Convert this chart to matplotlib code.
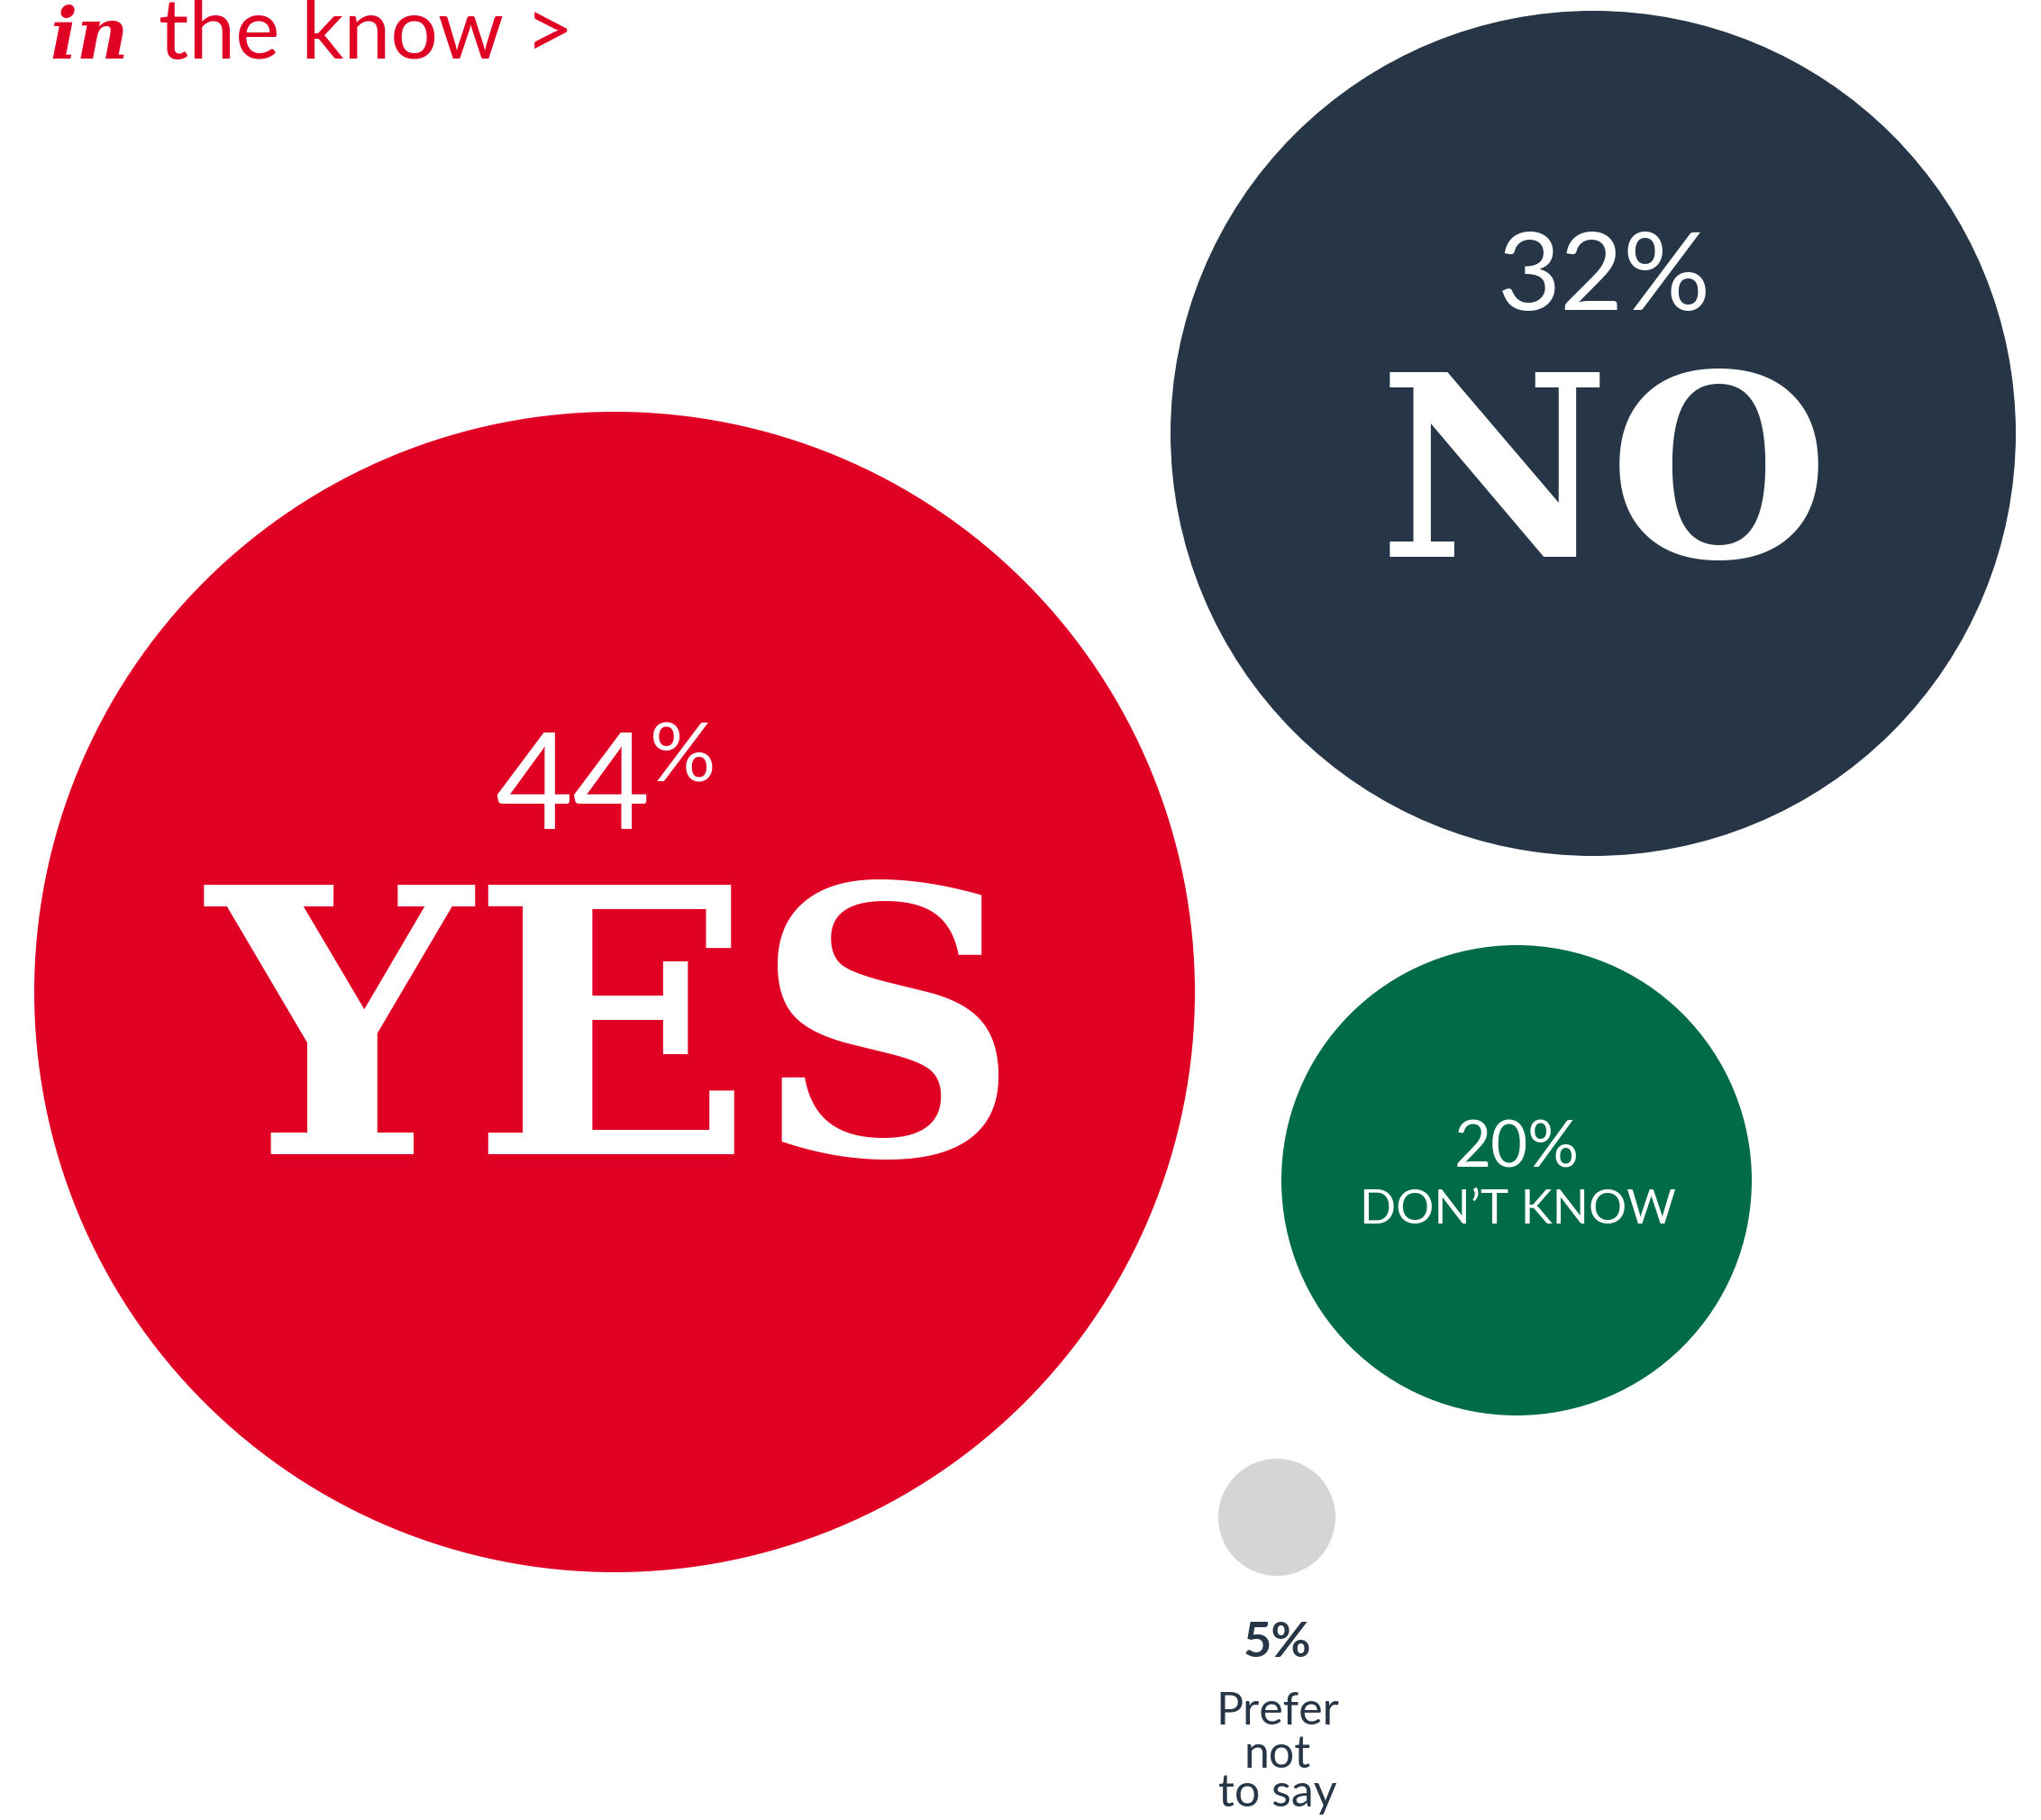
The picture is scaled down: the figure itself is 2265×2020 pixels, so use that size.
import matplotlib
matplotlib.use("Agg")
import matplotlib.pyplot as plt
from matplotlib.patches import Circle

# Survey answers
categories = ["YES", "NO", "DON'T KNOW", "Prefer\nnot\nto say"]
values = [44, 32, 20, 5]
pct_labels = [f"{v}%" for v in values]

# Palette
RED = "#E00024"
NAVY = "#263646"
GREEN = "#006B47"
GREY = "#D4D5D7"
colors = [RED, NAVY, GREEN, GREY]

# Bubble layout (pixel space of the canvas)
centers = [(682, 1101), (1768, 481), (1683, 1310), (1417, 1684)]
radii = [644, 469, 261, 65]

W, H = 2265, 2020
fig = plt.figure(figsize=(W / 100, H / 100), dpi=100)
ax = fig.add_axes([0, 0, 1, 1])
ax.set_xlim(0, W)
ax.set_ylim(H, 0)
ax.set_aspect("equal")
ax.axis("off")

for (cx, cy), r, c in zip(centers, radii, colors):
    ax.add_patch(Circle((cx, cy), r, facecolor=c, edgecolor="none"))

SANS = ["Lato", "DejaVu Sans"]
SERIF = ["DejaVu Serif"]

# Header
ax.text(55, 65, "in", family=SERIF, fontweight="bold", fontstyle="italic",
        fontsize=57, color=RED, ha="left", va="baseline")
ax.text(176, 65, "the know >", family=SANS, fontweight="normal",
        fontsize=67, color=RED, ha="left", va="baseline")

# YES bubble
ax.text(636, 920, pct_labels[0][:-1], family=SANS, fontweight="normal",
        fontsize=107, color="white", ha="center", va="baseline")
ax.text(758, 868, "%", family=SANS, fontweight="normal",
        fontsize=66, color="white", ha="center", va="baseline")
ax.text(682, 1281, categories[0], family=SERIF, fontweight="bold",
        fontsize=296, color="white", ha="center", va="baseline")

# NO bubble
ax.text(1780, 344, pct_labels[1], family=SANS, fontweight="normal",
        fontsize=87, color="white", ha="center", va="baseline")
ax.text(1780, 618, categories[1], family=SERIF, fontweight="bold",
        fontsize=202, color="white", ha="center", va="baseline")

# DON'T KNOW bubble
ax.text(1683, 1296, pct_labels[2], family=SANS, fontweight="normal",
        fontsize=51, color="white", ha="center", va="baseline")
ax.text(1684, 1358, "DON\u2019T KNOW", family=SANS, fontweight="normal",
        fontsize=38, color="white", ha="center", va="baseline")

# Prefer not to say (label below the small bubble)
ax.text(1418, 1839, pct_labels[3], family=SANS, fontweight="bold",
        fontsize=39, color=NAVY, ha="center", va="baseline")
for line, y in zip(categories[3].split("\n"), [1914, 1962, 2005]):
    ax.text(1418, y, line, family=SANS, fontweight="normal",
            fontsize=36, color=NAVY, ha="center", va="baseline")

fig.savefig("out.png", dpi=100, facecolor="white")
